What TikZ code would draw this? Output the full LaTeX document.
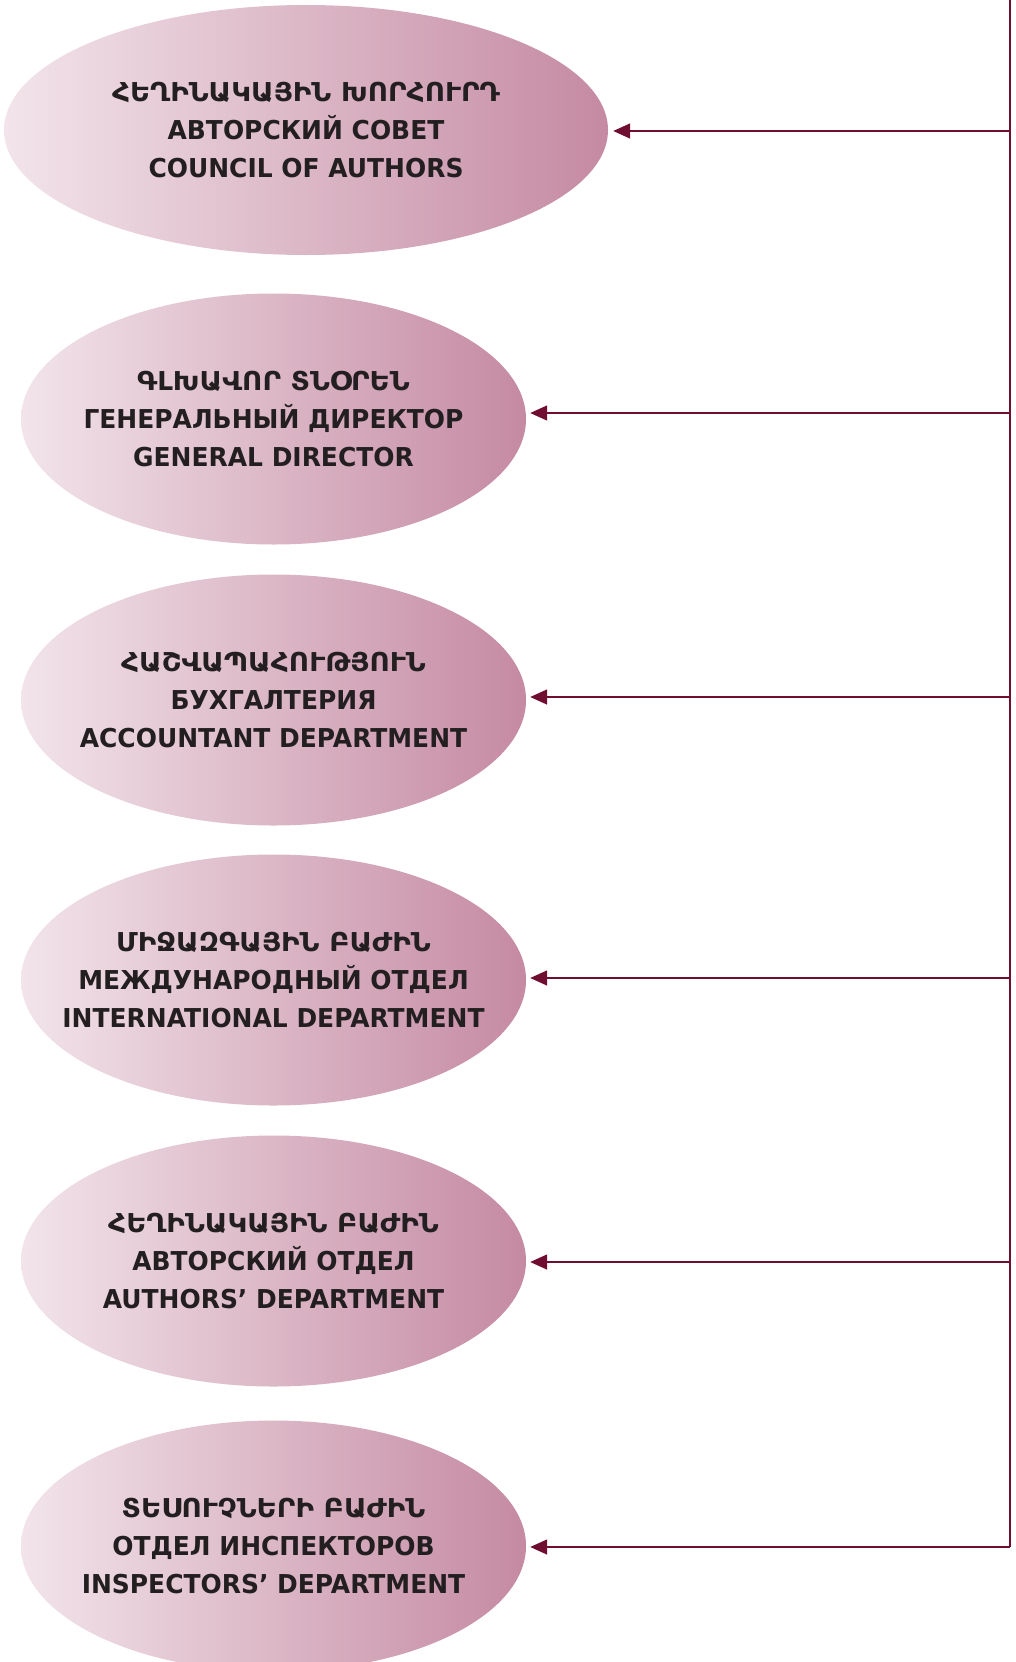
\documentclass[tikz,border=0pt]{standalone}
\usepackage{fontspec}
\usetikzlibrary{shapes.geometric,arrows.meta}
\newfontfamily\lblfont{DejaVu Sans}[FakeStretch=0.96]
\newfontfamily\armfont{DejaVu Sans}[FakeStretch=1.07]
\definecolor{bubL}{RGB}{242,228,234}
\definecolor{bubR}{RGB}{197,138,162}
\definecolor{wire}{RGB}{112,14,50}
\definecolor{ink}{RGB}{35,31,32}
\tikzset{
  bubble/.style={ellipse, draw=none, left color=bubL, right color=bubR, inner sep=0pt, minimum height=251pt},
  lbl/.style={align=center, text=ink, inner sep=0pt, font=\lblfont\bfseries\fontsize{26}{38}\selectfont},
  link/.style={draw=wire, line width=1.5pt, -{Triangle[length=17pt,width=15pt]}, shorten >=4pt},
  trunk/.style={draw=wire, line width=2.7pt}
}
\begin{document}
\begin{tikzpicture}[x=1pt,y=-1pt]
\useasboundingbox (0,0) rectangle (1016,1662);
% bubbles
\node[bubble, minimum width=604pt, minimum height=250pt] (e1) at (306,130) {};
\node[bubble, minimum width=505pt] (e2) at (273.5,419) {};
\node[bubble, minimum width=505pt] (e3) at (273.5,700) {};
\node[bubble, minimum width=505pt] (e4) at (273.5,980) {};
\node[bubble, minimum width=505pt] (e5) at (273.5,1261) {};
\node[bubble, minimum width=505pt] (e6) at (273.5,1546) {};
% labels
\node[lbl] (l1) at (e1) {{\armfont ՀԵՂԻՆԱԿԱՅԻՆ ԽՈՐՀՈՒՐԴ}\\АВТОРСКИЙ СОВЕТ\\COUNCIL OF AUTHORS};
\node[lbl] (l2) at (e2) {{\armfont ԳԼԽԱՎՈՐ ՏՆՕՐԵՆ}\\ГЕНЕРАЛЬНЫЙ ДИРЕКТОР\\GENERAL DIRECTOR};
\node[lbl] (l3) at (e3) {{\armfont ՀԱՇՎԱՊԱՀՈՒԹՅՈՒՆ}\\БУХГАЛТЕРИЯ\\ACCOUNTANT DEPARTMENT};
\node[lbl] (l4) at (e4) {{\armfont ՄԻՋԱԶԳԱՅԻՆ ԲԱԺԻՆ}\\МЕЖДУНАРОДНЫЙ ОТДЕЛ\\INTERNATIONAL DEPARTMENT};
\node[lbl] (l5) at (e5) {{\armfont ՀԵՂԻՆԱԿԱՅԻՆ ԲԱԺԻՆ}\\АВТОРСКИЙ ОТДЕЛ\\AUTHORS’ DEPARTMENT};
\node[lbl] (l6) at (e6) {{\armfont ՏԵՍՈՒՉՆԵՐԻ ԲԱԺԻՆ}\\ОТДЕЛ ИНСПЕКТОРОВ\\INSPECTORS’ DEPARTMENT};
% trunk
\coordinate (top) at (1010,0);
\coordinate (t1) at (1010,131);
\coordinate (t2) at (1010,413);
\coordinate (t3) at (1010,697);
\coordinate (t4) at (1010,978);
\coordinate (t5) at (1010,1262);
\coordinate (t6) at (1010,1547);
\draw[trunk] (top) -- (t6);
\draw[link, shorten >=5pt] (t1) -- (t1 -| e1.east);
\draw[link] (t2) -- (t2 -| e2.east);
\draw[link] (t3) -- (t3 -| e3.east);
\draw[link] (t4) -- (t4 -| e4.east);
\draw[link] (t5) -- (t5 -| e5.east);
\draw[link] (t6) -- (t6 -| e6.east);
\end{tikzpicture}
\end{document}
